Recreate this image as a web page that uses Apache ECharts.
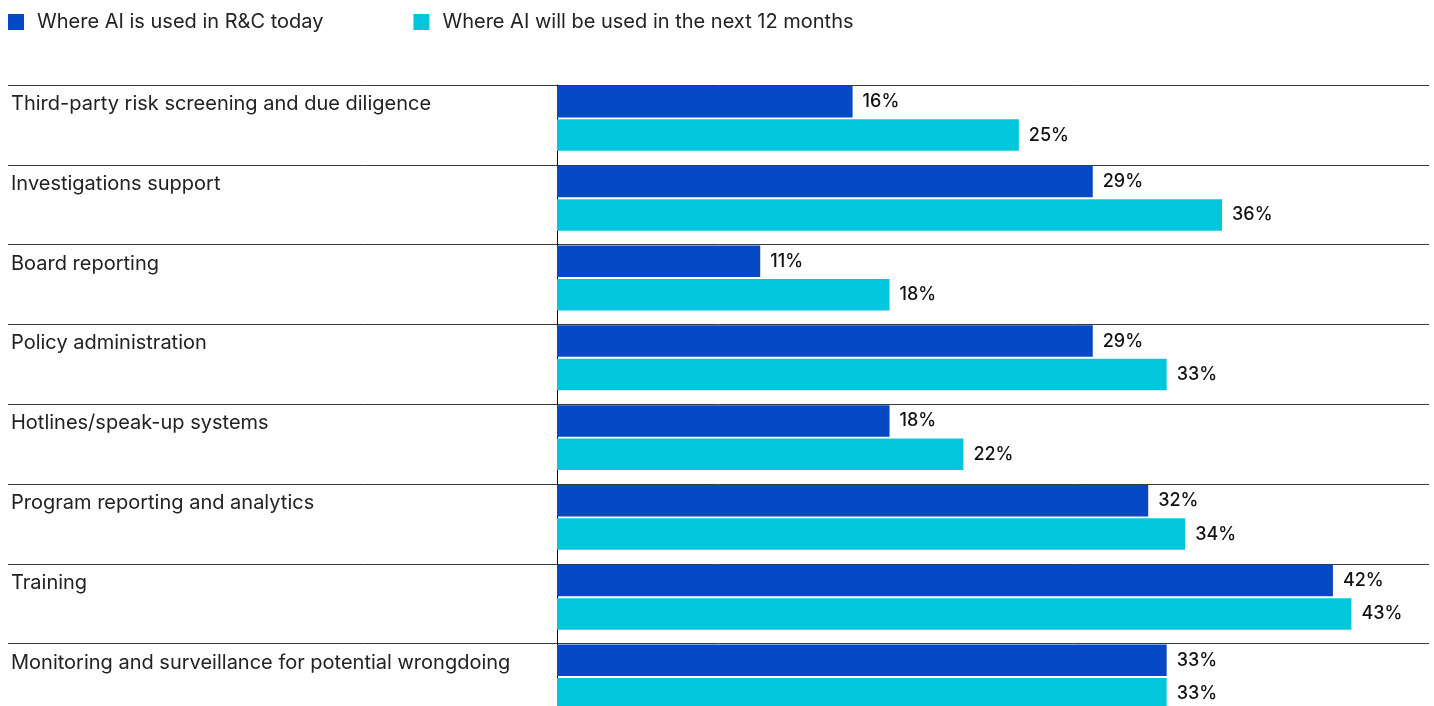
<!DOCTYPE html>
<html>
<head>
<meta charset="utf-8">
<style>
  html, body { margin: 0; padding: 0; background: #ffffff; overflow: hidden; }
  /* the last row runs past the bottom edge of the window */
  #chart { width: 1434px; height: 760px; }
</style>
<script src="https://cdn.jsdelivr.net/npm/echarts@6/dist/echarts.min.js"></script>
</head>
<body>
<div id="chart"></div>
<script>
// Areas of risk & compliance work where AI is applied
const categories = [
  'Third-party risk screening and due diligence',
  'Investigations support',
  'Board reporting',
  'Policy administration',
  'Hotlines/speak-up systems',
  'Program reporting and analytics',
  'Training',
  'Monitoring and surveillance for potential wrongdoing'
];
const seriesNames = [
  'Where AI is used in R&C today',
  'Where AI will be used in the next 12 months'
];
const usedToday = [16, 29, 11, 29, 18, 32, 42, 33];
const next12Months = [25, 36, 18, 33, 22, 34, 43, 33];

const DARK = '#0549C4';
const CYAN = '#02C7DC';
const FONT = 'Inter, Roboto, "Noto Sans", sans-serif';

const ROW_H = 79.8;
const ROWS_TOP = 85;
const TOTAL_H = ROW_H * categories.length;

const chart = echarts.init(document.getElementById('chart'), null, { renderer: 'canvas' });

// hidden value axis helper
const hiddenX = (gridIndex, max) => ({ gridIndex, type: 'value', min: 0, max, show: false });
// category axis helper (rows run top to bottom)
const catY = (gridIndex, extra) => Object.assign({
  gridIndex, type: 'category', data: categories, inverse: true,
  axisLine: { show: false }, axisTick: { show: false },
  axisLabel: { show: false }, splitLine: { show: false }
}, extra);

const barLabel = {
  show: true,
  position: 'right',
  distance: 10,
  formatter: '{c}%',
  fontFamily: FONT,
  fontSize: 18,
  fontWeight: 500,
  color: '#111111'
};

chart.setOption({
  backgroundColor: '#ffffff',
  animation: false,
  textStyle: { fontFamily: FONT },
  legend: {
    left: 8,
    top: 12,
    padding: 0,
    itemWidth: 16,
    itemHeight: 16,
    itemGap: 90,
    icon: 'rect',
    data: seriesNames,
    textStyle: {
      fontFamily: FONT,
      fontSize: 20,
      color: '#222222',
      padding: [0, 0, 0, 8]
    }
  },
  grid: [
    // bars: the pair sits in the upper part of each row
    { left: 557, right: 5, top: ROWS_TOP - 6.5, height: TOTAL_H },
    // row separators
    { left: 8, right: 5, top: ROWS_TOP, height: TOTAL_H },
    // vertical baseline
    { left: 557, right: 5, top: ROWS_TOP, height: TOTAL_H },
    // category labels, level with the first bar of each row
    { left: 8, right: 5, top: ROWS_TOP - 21, height: TOTAL_H }
  ],
  xAxis: [hiddenX(0, 47.2), hiddenX(1, 1), hiddenX(2, 1), hiddenX(3, 1)],
  yAxis: [
    catY(0),
    catY(1, {
      splitLine: { show: true, interval: 0, lineStyle: { color: '#3a3a3a', width: 1 } }
    }),
    catY(2, {
      axisLine: { show: true, lineStyle: { color: '#111111', width: 1 } }
    }),
    catY(3, {
      axisLabel: {
        show: true,
        inside: true,
        margin: 3,
        interval: 0,
        align: 'left',
        verticalAlign: 'middle',
        fontFamily: FONT,
        fontSize: 20,
        color: '#222222'
      }
    })
  ],
  series: [
    {
      name: seriesNames[0],
      type: 'bar',
      xAxisIndex: 0,
      yAxisIndex: 0,
      data: usedToday,
      barWidth: 31.5,
      barGap: '6%',
      itemStyle: { color: DARK },
      label: barLabel
    },
    {
      name: seriesNames[1],
      type: 'bar',
      xAxisIndex: 0,
      yAxisIndex: 0,
      data: next12Months,
      barWidth: 31.5,
      barGap: '6%',
      itemStyle: { color: CYAN },
      label: barLabel
    }
  ]
});
</script>
</body>
</html>
